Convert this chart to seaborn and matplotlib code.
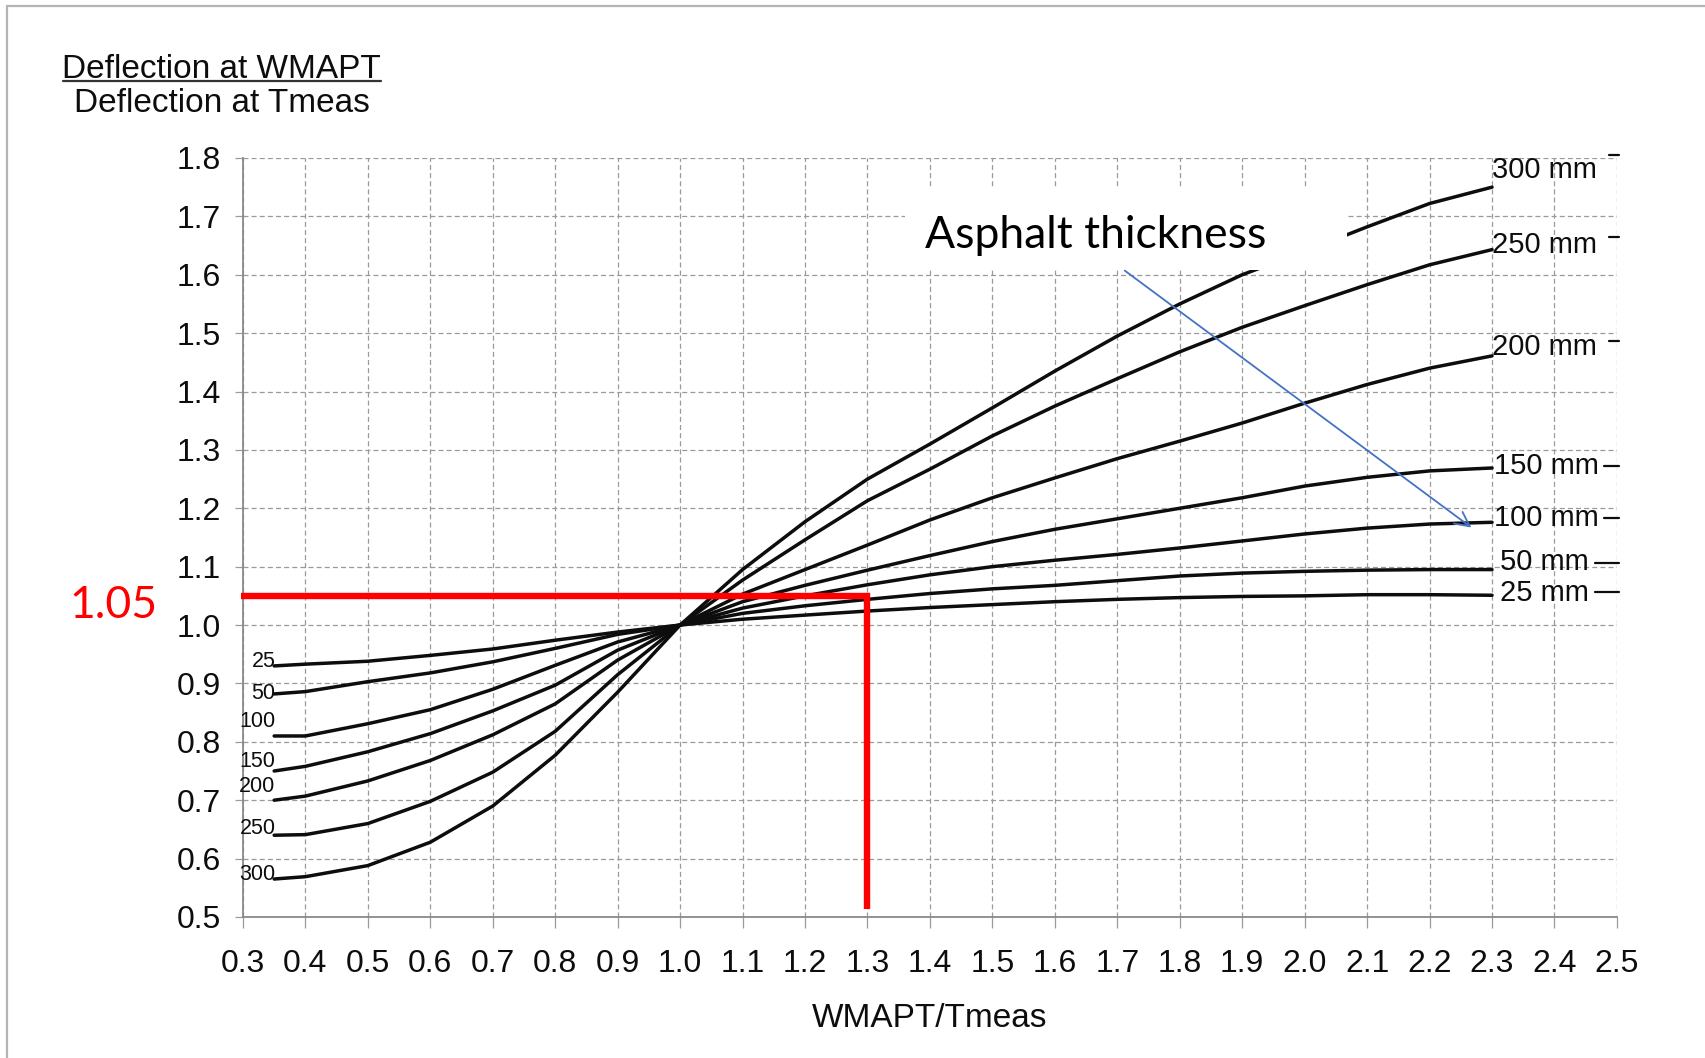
import numpy as np
import pandas as pd
import matplotlib
matplotlib.use("Agg")
import matplotlib.pyplot as plt
from matplotlib.lines import Line2D
from matplotlib.patches import Rectangle
import seaborn as sns

# ---------------- data ----------------
ratio = [0.35, 0.4, 0.5, 0.6, 0.7, 0.8, 0.9, 1.0, 1.1, 1.2, 1.3,
         1.4, 1.5, 1.6, 1.7, 1.8, 1.9, 2.0, 2.1, 2.2, 2.3]

thick_25 = [0.930, 0.933, 0.938, 0.948, 0.959, 0.974, 0.988, 1.000, 1.010, 1.017, 1.024,
            1.030, 1.035, 1.040, 1.044, 1.047, 1.049, 1.050, 1.052, 1.052, 1.051]
thick_50 = [0.882, 0.886, 0.903, 0.918, 0.937, 0.960, 0.984, 1.000, 1.020, 1.033, 1.044,
            1.054, 1.062, 1.068, 1.076, 1.084, 1.089, 1.092, 1.094, 1.095, 1.095]
thick_100 = [0.810, 0.810, 0.831, 0.855, 0.890, 0.931, 0.971, 1.000, 1.029, 1.050, 1.069,
             1.086, 1.100, 1.111, 1.121, 1.132, 1.144, 1.156, 1.166, 1.173, 1.176]
thick_150 = [0.750, 0.758, 0.783, 0.814, 0.853, 0.897, 0.957, 1.000, 1.040, 1.068, 1.094,
             1.119, 1.143, 1.164, 1.182, 1.200, 1.218, 1.238, 1.253, 1.264, 1.269]
thick_200 = [0.700, 0.707, 0.733, 0.768, 0.812, 0.865, 0.940, 1.000, 1.053, 1.095, 1.137,
             1.180, 1.218, 1.252, 1.285, 1.315, 1.346, 1.380, 1.412, 1.440, 1.461]
thick_250 = [0.640, 0.641, 0.660, 0.698, 0.748, 0.818, 0.915, 1.000, 1.077, 1.146, 1.213,
             1.267, 1.324, 1.375, 1.422, 1.468, 1.510, 1.547, 1.583, 1.617, 1.643]
thick_300 = [0.565, 0.569, 0.588, 0.628, 0.690, 0.777, 0.885, 1.000, 1.095, 1.177, 1.250,
             1.310, 1.372, 1.435, 1.495, 1.550, 1.600, 1.640, 1.682, 1.722, 1.750]

thicknesses = [25, 50, 100, 150, 200, 250, 300]
series = [thick_25, thick_50, thick_100, thick_150, thick_200, thick_250, thick_300]

left_labels = ["25", "50", "100", "150", "200", "250", "300"]
right_labels = ["25 mm", "50 mm", "100 mm", "150 mm", "200 mm", "250 mm", "300 mm"]

x_ticks = [0.3, 0.4, 0.5, 0.6, 0.7, 0.8, 0.9, 1.0, 1.1, 1.2, 1.3, 1.4,
           1.5, 1.6, 1.7, 1.8, 1.9, 2.0, 2.1, 2.2, 2.3, 2.4, 2.5]
y_ticks = [0.5, 0.6, 0.7, 0.8, 0.9, 1.0, 1.1, 1.2, 1.3, 1.4, 1.5, 1.6, 1.7, 1.8]

read_ratio = 1.3
read_value = 1.05

# ---------------- layout / style ----------------
left_label_offset = [0.008, 0.0, 0.024, 0.016, 0.024, 0.011, 0.008]
right_label_y = [1.055, 1.108, 1.183, 1.273, 1.477, 1.651, 1.779]
right_label_x = [2.313, 2.313, 2.303, 2.303, 2.300, 2.300, 2.300]
right_mark_len = [0.035, 0.035, 0.02, 0.02, 0.013, 0.013, 0.013]
right_mark_y = [1.057, 1.107, 1.184, 1.273, 1.487, 1.665, 1.805]

df = pd.DataFrame({
    "ratio": np.tile(ratio, len(thicknesses)),
    "value": np.concatenate(series),
    "thickness": np.repeat(thicknesses, len(ratio)),
})

sns.set_theme(style="white")
plt.rcParams["font.family"] = ["Liberation Sans", "DejaVu Sans"]

fig = plt.figure(figsize=(17.06, 10.58), dpi=100)
ax = fig.add_axes([0.1424, 0.1333, 0.9478 - 0.1424, 0.8507 - 0.1333])

sns.lineplot(data=df, x="ratio", y="value", hue="thickness",
             palette=["#0d0d0d"] * len(thicknesses), legend=False,
             linewidth=2.5, ax=ax, zorder=2)

ax.set_xlim(0.3, 2.5)
ax.set_ylim(0.5, 1.8)
ax.set_xticks(x_ticks)
ax.set_yticks(y_ticks)
ax.set_xticklabels([f"{v:.1f}" for v in x_ticks])
ax.set_yticklabels([f"{v:.1f}" for v in y_ticks])
ax.tick_params(axis="both", labelsize=23, colors="#0d0d0d")
ax.tick_params(axis="x", bottom=True, length=8, width=0.9, color="#9b9b9b", pad=15)
ax.tick_params(axis="y", left=True, length=6, width=0.9, color="#9b9b9b", pad=10)

ax.grid(True, color="#9a9a9a", linestyle=(0, (4, 2.5)), linewidth=0.9)
ax.set_axisbelow(True)
for s in ["top", "right"]:
    ax.spines[s].set_visible(False)
for s in ["left", "bottom"]:
    ax.spines[s].set_color("#8a8a8a")
    ax.spines[s].set_linewidth(1.3)

ax.set_xlabel("WMAPT/Tmeas", fontsize=24, labelpad=17, color="#0d0d0d")
ax.set_ylabel("")

# left curve labels
for lab, vals, off in zip(left_labels, series, left_label_offset):
    ax.text(ratio[0] + 0.002, vals[0] + off, lab, ha="right", va="center",
            fontsize=15.5, color="#0d0d0d", zorder=5)

# right curve labels and small marks on the right edge
for lab, lx, ly in zip(right_labels, right_label_x, right_label_y):
    ax.text(lx, ly, lab, ha="left", va="center", fontsize=21, color="#0d0d0d", zorder=5)
for my, ml in zip(right_mark_y, right_mark_len):
    ax.plot([2.5 - ml, 2.503], [my, my], color="#0d0d0d", lw=1.6, clip_on=False, zorder=5)

# white box behind annotation text
ax.add_patch(Rectangle((1.36, 1.608), 0.708, 0.141, facecolor="white",
                       edgecolor="none", zorder=3))
ax.text(1.392, 1.646, "Asphalt thickness", ha="left", va="baseline",
        fontsize=32, family=["Lato", "DejaVu Sans"], color="black", zorder=4)
ax.annotate("", xy=(2.267, 1.167), xytext=(1.712, 1.607),
            arrowprops=dict(arrowstyle="->", color="#4472C4", lw=1.3,
                            mutation_scale=26, shrinkA=0, shrinkB=0),
            zorder=4)

# red reading lines
ax.plot([0.297, read_ratio, read_ratio], [read_value, read_value, 0.513],
        color="#ff0000", lw=4.6, solid_joinstyle="miter", solid_capstyle="butt",
        clip_on=False, zorder=4)
ax.text(0.093, 1.033, f"{read_value:.2f}", ha="center", va="center",
        fontsize=32, family=["Lato", "DejaVu Sans"], color="#ff0000")

# fraction style y-label
fig.text(0.130, 0.9263, "Deflection at WMAPT", ha="center", va="baseline",
         fontsize=24, color="#0d0d0d")
fig.text(0.130, 0.8941, "Deflection at Tmeas", ha="center", va="baseline",
         fontsize=24, color="#0d0d0d")
fig.add_artist(Line2D([0.0369, 0.2233], [0.9234, 0.9234], color="#333333", lw=1.6))

# slide frame
fig.add_artist(Line2D([0.004, 1.0], [0.9943, 0.9943], color="#b4b4b4", lw=1.6))
fig.add_artist(Line2D([0.0041, 0.0041], [0.0, 0.9943], color="#b4b4b4", lw=1.6))

fig.savefig("out.png", dpi=100, facecolor="white")
